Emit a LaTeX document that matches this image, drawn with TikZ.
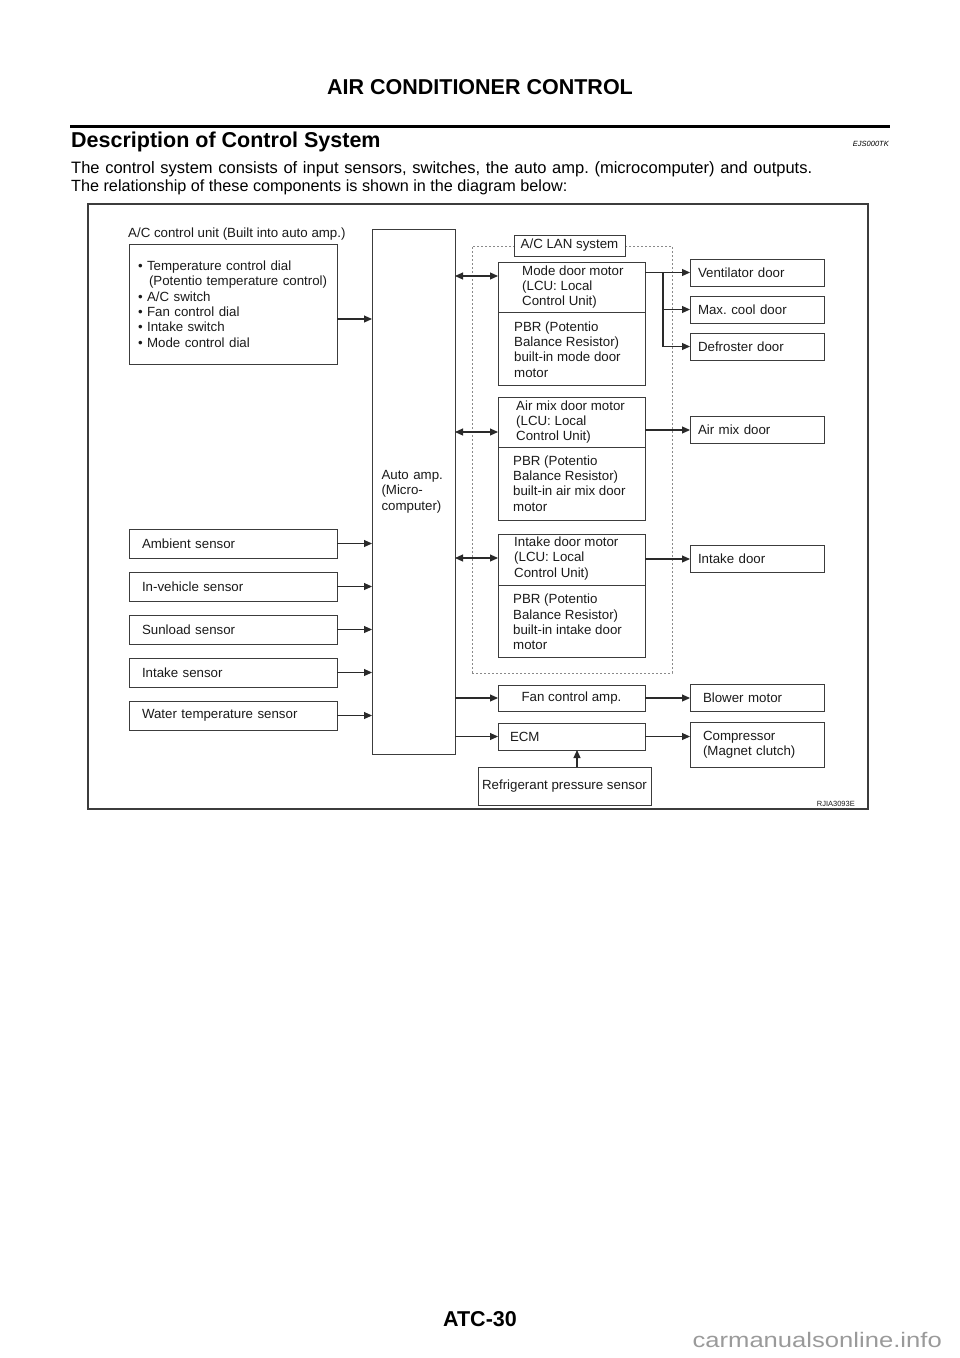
\documentclass[tikz,border=0pt]{standalone}
\usepackage{fontspec}
\setmainfont{Liberation Sans}
\usepackage{graphicx}
\usetikzlibrary{arrows.meta,positioning,calc}
\frenchspacing
\definecolor{Ink}{HTML}{1A1A1A}
\definecolor{Frame}{HTML}{3C3C3C}
\definecolor{Wire}{HTML}{2A2A2A}
\definecolor{Dots}{HTML}{8A8A8A}
\definecolor{Mark}{HTML}{9A9A9A}
\newcommand\diagfont{\fontsize{13.3}{15.3}\selectfont}
\newcommand\headfont{\fontsize{21.5}{24}\selectfont\bfseries}
\newcommand\bodyfont{\fontsize{16.2}{18}\selectfont}
\tikzset{
  unit/.style={draw=Frame,line width=1pt,outer sep=0pt,inner ysep=0pt,font=\diagfont,text=Ink},
  sensor/.style={unit,minimum width=208pt,minimum height=29pt,text width=182pt,inner xsep=13pt,align=left},
  door/.style={unit,minimum width=134pt,minimum height=27pt,text width=118pt,inner xsep=8pt,align=left},
  part/.style={unit,minimum width=147pt},
  caption/.style={font=\diagfont,text=Ink,align=left,inner sep=0pt,anchor=west},
  arrow/.style={-{Triangle[length=8pt,width=7pt]},line width=1.1pt,draw=Wire},
  twoway/.style={{Triangle[length=8pt,width=7pt]}-{Triangle[length=8pt,width=7pt]},line width=1.1pt,draw=Wire},
  lanzone/.style={draw=Dots,line width=1pt,dash pattern=on 2pt off 2pt,minimum width=200pt,minimum height=427pt}
}

\begin{document}
\begin{tikzpicture}[x=1pt,y=-1pt]
  \useasboundingbox (0,0) rectangle (960,1358);

  % page head
  \node[font=\headfont,anchor=base] (header) at (480,94) {AIR CONDITIONER CONTROL};
  \draw[line width=3pt] (70,126) -- (890,126);
  \node[font=\headfont,anchor=base west,inner sep=0pt] (title) at (71,147) {Description of Control System};
  \node[font=\fontsize{7.5}{9}\selectfont\itshape,anchor=base east,inner sep=0pt] (code) at (889,146) {EJS000TK};
  \node[font=\fontsize{16.5}{18}\selectfont,anchor=base west,inner sep=0pt] (intro) at (71,173) {\makebox[741pt][s]{The control system consists of input sensors, switches, the auto amp. (microcomputer) and outputs.}};
  \node[font=\bodyfont,anchor=base west,inner sep=0pt] (intro2) at (71,191) {The relationship of these components is shown in the diagram below:};

  % diagram frame and LAN zone
  \node[draw=Frame,line width=2pt,minimum width=780pt,minimum height=605pt] (frame) at (478,506.5) {};
  \node[lanzone] (lan) at (572,459.5) {};
  \node[unit,fill=white,minimum width=111pt,minimum height=21pt] (lanlabel) at (569.5,245.5) {A/C LAN system};

  % inputs
  \node[caption] (unitlabel) at (128,234) {A/C control unit (Built into auto amp.)};
  \node[unit,minimum width=208pt,minimum height=120pt,text width=190pt,inner xsep=9pt,align=left] (ctrl) at (233,304)
    {\textbullet{} Temperature control dial\\\hspace*{11pt}(Potentio temperature control)\\\textbullet{} A/C switch\\\textbullet{} Fan control dial\\\textbullet{} Intake switch\\\textbullet{} Mode control dial};
  \node[sensor] (ambient) at (233,543.5) {Ambient sensor};
  \node[sensor,below=14pt of ambient] (invehicle) {In-vehicle sensor};
  \node[sensor,below=14pt of invehicle] (sunload) {Sunload sensor};
  \node[sensor,below=14pt of sunload] (intakesens) {Intake sensor};
  \node[sensor,below=14pt of intakesens] (water) {Water temperature sensor};

  \node[unit,minimum width=83pt,minimum height=525pt,text width=64pt,inner xsep=9.5pt,align=left] (autoamp) at (413.5,491.5)
    {Auto amp.\\(Micro-\\computer)};

  % door motors
  \node[part,minimum height=50pt] (modelcu) at (571.5,287) {};
  \node[part,minimum height=73pt,below=0pt of modelcu] (modepbr) {};
  \node[caption] (modetxt) at ([xshift=24pt]modelcu.west) {Mode door motor\\(LCU: Local\\Control Unit)};
  \node[caption] (modepbrtxt) at ([xshift=16pt,yshift=-1pt]modepbr.west) {PBR (Potentio\\Balance Resistor)\\built-in mode door\\motor};

  \node[part,minimum height=50pt] (airmixlcu) at (571.5,422) {};
  \node[part,minimum height=73pt,below=0pt of airmixlcu] (airmixpbr) {};
  \node[caption] (airmixtxt) at ([xshift=18pt]airmixlcu.west) {Air mix door motor\\(LCU: Local\\Control Unit)};
  \node[caption] (airmixpbrtxt) at ([xshift=15pt]airmixpbr.west) {PBR (Potentio\\Balance Resistor)\\built-in air mix door\\motor};

  \node[part,minimum height=51pt] (intakelcu) at (571.5,559.5) {};
  \node[part,minimum height=72pt,below=0pt of intakelcu] (intakepbr) {};
  \node[caption] (intaketxt) at ([xshift=16pt,yshift=1pt]intakelcu.west) {Intake door motor\\(LCU: Local\\Control Unit)};
  \node[caption] (intakepbrtxt) at ([xshift=15pt,yshift=-1pt]intakepbr.west) {PBR (Potentio\\Balance Resistor)\\built-in intake door\\motor};

  \node[part,minimum height=26pt] (fan) at (571.5,698) {Fan control amp.};
  \node[part,minimum height=27pt,text width=123pt,inner xsep=12pt,align=left] (ecm) at (571.5,736.5) {ECM};
  \node[unit,minimum width=173pt,minimum height=38pt] (refrig) at (564.5,786) {Refrigerant pressure sensor};

  % outputs
  \node[door] (vent) at (757,272.5) {Ventilator door};
  \node[door,below=10pt of vent] (maxcool) {Max. cool door};
  \node[door,below=10pt of maxcool] (defrost) {Defroster door};
  \node[door] (airmixdoor) at (757,430) {Air mix door};
  \node[door] (intakedoor) at (757,559) {Intake door};
  \node[door,text width=108pt,inner xsep=13pt] (blower) at (757,698) {Blower motor};
  \node[door,minimum height=45pt,text width=108pt,inner xsep=13pt] (compressor) at (757,744.5) {Compressor\\(Magnet clutch)};

  \node[font=\fontsize{7.5}{9}\selectfont,text=Ink,anchor=base east,inner sep=0pt] (figid) at (855,806) {RJIA3093E};

  % connectors
  \coordinate (ctrlout) at ([yshift=-15pt]ctrl.east);
  \draw[arrow] (ctrlout) -- (autoamp.west |- ctrlout);
  \foreach \s in {ambient,invehicle,sunload,intakesens,water}
    \draw[arrow] (\s.east) -- (autoamp.west |- \s.east);

  \coordinate (modeport) at ([yshift=-14pt]modelcu.north west);
  \coordinate (airmixport) at ([yshift=-35pt]airmixlcu.north west);
  \coordinate (intakeport) at ([yshift=-24pt]intakelcu.north west);
  \foreach \p in {modeport,airmixport,intakeport}
    \draw[twoway] (autoamp.east |- \p) -- (\p);

  \draw[arrow] (modelcu.east |- vent) -- (vent.west);
  \coordinate (modesplit) at ($(modelcu.east |- vent)+(18,0)$);
  \draw[arrow] (modesplit) |- (maxcool.west);
  \draw[arrow] (modesplit) |- (defrost.west);
  \draw[arrow] (airmixlcu.east |- airmixdoor) -- (airmixdoor.west);
  \draw[arrow] (intakelcu.east |- intakedoor) -- (intakedoor.west);

  \draw[arrow] (autoamp.east |- fan) -- (fan.west);
  \draw[arrow] (fan.east) -- (blower.west);
  \draw[arrow] (autoamp.east |- ecm) -- (ecm.west);
  \draw[arrow] (ecm.east) -- (compressor.west |- ecm.east);
  \coordinate (refrigout) at ([xshift=12.5pt]refrig.north);
  \draw[arrow] (refrigout) -- (refrigout |- ecm.south);

  % page foot
  \node[font=\headfont,anchor=base] (footer) at (480,1326) {ATC-30};
  \node[font=\fontsize{21}{24}\selectfont,text=Mark,anchor=base east,inner sep=0pt] (mark) at (942,1347) {\scalebox{1.22}[1]{carmanualsonline.info}};
\end{tikzpicture}
\end{document}
